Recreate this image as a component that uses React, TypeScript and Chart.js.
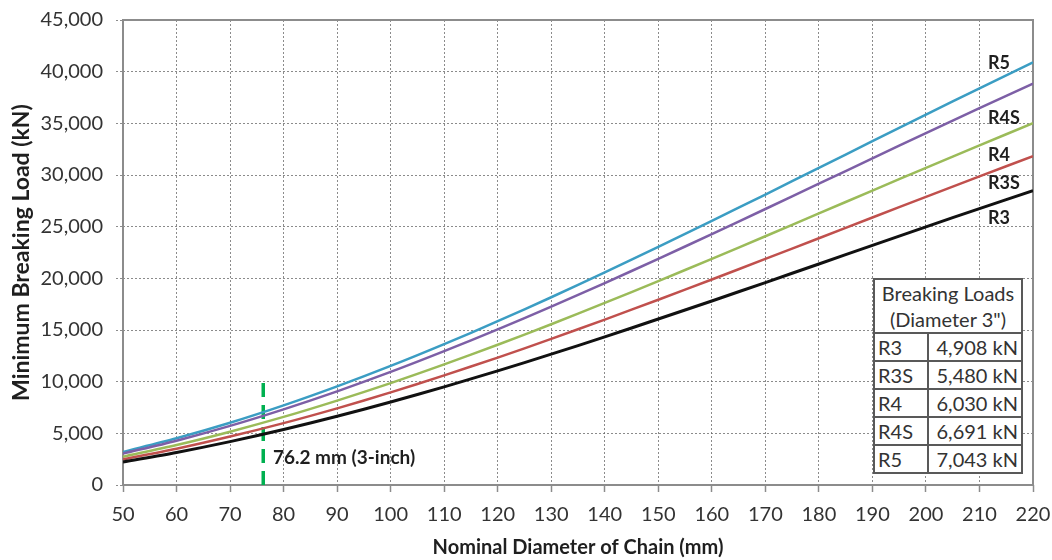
import React, { useEffect, useRef } from "react";
import { Chart, registerables } from "chart.js";

Chart.register(...registerables);

// ---- data ----
const diameters = [50, 60, 70, 80, 90, 100, 110, 120, 130, 140, 150, 160, 170, 180, 190, 200, 210, 220];
const r3Loads = [2230, 3150, 4200, 5370, 6650, 8030, 9500, 11050, 12660, 14340, 16060, 17810, 19590, 21390, 23190, 24980, 26750, 28490];
const r3sLoads = [2490, 3510, 4690, 5990, 7420, 8960, 10610, 12330, 14140, 16010, 17930, 19890, 21880, 23880, 25890, 27890, 29870, 31820];
const r4Loads = [2740, 3870, 5160, 6590, 8170, 9860, 11670, 13570, 15560, 17620, 19730, 21890, 24070, 26280, 28490, 30690, 32870, 35010];
const r4sLoads = [3040, 4290, 5720, 7320, 9060, 10940, 12950, 15060, 17260, 19540, 21890, 24280, 26710, 29160, 31610, 34050, 36470, 38840];
const r5Loads = [3200, 4520, 6020, 7700, 9540, 11520, 13630, 15850, 18170, 20570, 23040, 25560, 28110, 30690, 33270, 35840, 38390, 40890];

const gradeNames = ["R3", "R3S", "R4", "R4S", "R5"];
const gradeLoads = [r3Loads, r3sLoads, r4Loads, r4sLoads, r5Loads];
const gradeColors = ["#111111", "#c0504d", "#9bbb59", "#7d5fa6", "#3b9dc3"];
const gradeWidths = [3, 2.5, 2.5, 2.5, 2.5];

// label anchors (data coordinates) for the grade names at the right end
const gradeLabelX = 211.6;
const gradeLabelY = [25850, 29250, 31950, 35500, 40850];

// 3-inch marker
const markerDiameter = 76.2;
const markerTopLoad = 10000;
const markerText = "76.2 mm (3-inch)";
const markerTextX = 78.0;
const markerTextY = 2600;

// axes
const xMin = 50, xMax = 220, xStep = 10;
const yMin = 0, yMax = 45000, yStep = 5000;
const xTitle = "Nominal Diameter of Chain (mm)";
const yTitle = "Minimum Breaking Load (kN)";

// inset table
const tableTitle1 = "Breaking Loads";
const tableTitle2 = '(Diameter 3")';
const tableGrades = ["R3", "R3S", "R4", "R4S", "R5"];
const tableValues = ["4,908 kN", "5,480 kN", "6,030 kN", "6,691 kN", "7,043 kN"];

const FONT = "Lato, 'Open Sans', sans-serif";

const framePlugin = {
  id: "frame",
  beforeDatasetsDraw(chart: any) {
    const { ctx, chartArea: a } = chart;
    ctx.save();
    ctx.strokeStyle = "#8c8c8c";
    ctx.lineWidth = 2;
    ctx.setLineDash([]);
    ctx.strokeRect(a.left, a.top, a.right - a.left, a.bottom - a.top);
    ctx.restore();
  },
};

const textPlugin = {
  id: "annotText",
  afterDatasetsDraw(chart: any) {
    const { ctx } = chart;
    const xs = chart.scales.x;
    const ys = chart.scales.y;
    ctx.save();
    ctx.fillStyle = "#1f1f1f";
    ctx.font = `bold 18px ${FONT}`;
    ctx.textAlign = "left";
    ctx.textBaseline = "middle";
    gradeNames.forEach((n, i) => {
      ctx.fillText(n, xs.getPixelForValue(gradeLabelX), ys.getPixelForValue(gradeLabelY[i]));
    });
    ctx.font = `bold 19px ${FONT}`;
    ctx.fillText(markerText, xs.getPixelForValue(markerTextX), ys.getPixelForValue(markerTextY));
    ctx.restore();
  },
};

export default function App() {
  const ref = useRef<HTMLCanvasElement | null>(null);

  useEffect(() => {
    if (!ref.current) return;
    const datasets: any[] = gradeNames.map((name, i) => ({
      label: name,
      data: diameters.map((d, j) => ({ x: d, y: gradeLoads[i][j] })),
      borderColor: gradeColors[i],
      backgroundColor: gradeColors[i],
      borderWidth: gradeWidths[i],
      pointRadius: 0,
      tension: 0.3,
      fill: false,
    }));
    datasets.push({
      label: "3-inch",
      data: [
        { x: markerDiameter, y: 0 },
        { x: markerDiameter, y: markerTopLoad },
      ],
      borderColor: "#00b050",
      borderWidth: 3.5,
      borderDash: [14, 8],
      pointRadius: 0,
      fill: false,
    });

    const chart = new Chart(ref.current, {
      type: "line",
      data: { datasets },
      plugins: [framePlugin, textPlugin],
      options: {
        animation: false,
        responsive: false,
        maintainAspectRatio: false,
        layout: { padding: { top: 20, right: 19, left: 0, bottom: 0 } },
        plugins: {
          legend: { display: false },
          tooltip: { enabled: false },
        },
        scales: {
          x: {
            type: "linear",
            min: xMin,
            max: xMax,
            ticks: {
              stepSize: xStep,
              color: "#333333",
              font: { family: FONT, size: 20 },
              padding: 11,
              maxRotation: 0,
            },
            grid: {
              color: "rgba(100,100,100,0.75)",
              lineWidth: 1,
              tickLength: 7,
              tickColor: "#8c8c8c",
              tickBorderDash: [],
              tickWidth: 1.5,
            },
            border: { display: false, dash: [2, 2] },
            title: {
              display: true,
              text: xTitle,
              color: "#1f1f1f",
              font: { family: FONT, size: 20, weight: "bold" },
              padding: { top: 0, bottom: 0 },
            },
            afterFit: (s: any) => {
              s.height = 75;
              s.paddingLeft = 0;
              s.paddingRight = 0;
            },
          },
          y: {
            type: "linear",
            min: yMin,
            max: yMax,
            ticks: {
              stepSize: yStep,
              color: "#333333",
              font: { family: FONT, size: 20 },
              padding: 13,
            },
            grid: {
              color: "rgba(100,100,100,0.75)",
              lineWidth: 1,
              tickLength: 7,
              tickColor: "#8c8c8c",
              tickBorderDash: [2, 2],
            },
            border: { display: false, dash: [2, 2] },
            title: {
              display: true,
              text: yTitle,
              color: "#1f1f1f",
              font: { family: FONT, size: 23, weight: "bold" },
              padding: { top: 8, bottom: 0 },
            },
            afterFit: (s: any) => {
              s.width = 123;
              s.paddingTop = 0;
              s.paddingBottom = 0;
            },
          },
        },
      },
    });
    return () => chart.destroy();
  }, []);

  const cell: React.CSSProperties = {
    border: "2px solid #595959",
    padding: "0 3px",
    height: 26,
    lineHeight: "22px",
  };

  return (
    <div style={{ position: "fixed", left: 0, top: 0, width: 1052, height: 560, background: "#fff" }}>
      <canvas ref={ref} width={1052} height={560} style={{ display: "block" }} />
      <table
        style={{
          position: "absolute",
          left: 873,
          top: 278,
          width: 150,
          height: 195,
          borderCollapse: "collapse",
          background: "#fff",
          fontFamily: FONT,
          fontSize: 20,
          color: "#333",
        }}
      >
        <tbody>
          <tr>
            <td colSpan={2} style={{ ...cell, textAlign: "center", height: 51, lineHeight: "26px" }}>
              {tableTitle1}
              <br />
              {tableTitle2}
            </td>
          </tr>
          {tableGrades.map((g, i) => (
            <tr key={g}>
              <td style={{ ...cell, width: 46, textAlign: "left" }}>{g}</td>
              <td style={{ ...cell, textAlign: "right" }}>{tableValues[i]}</td>
            </tr>
          ))}
        </tbody>
      </table>
    </div>
  );
}
